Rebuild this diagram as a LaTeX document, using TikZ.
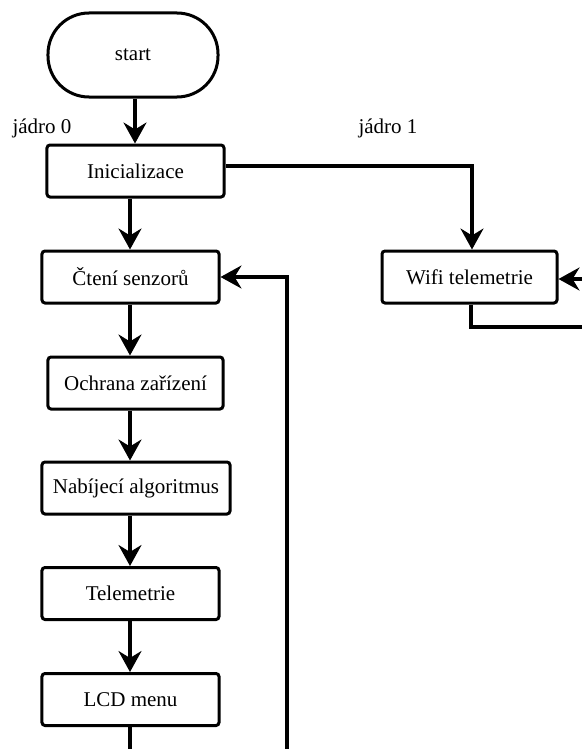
\documentclass[tikz,border=0pt]{standalone}
\usepackage{fontspec}
\setmainfont{Liberation Serif}
\usetikzlibrary{arrows.meta}
\begin{document}
\begin{tikzpicture}[x=1bp,y=-1bp,
  every node/.style={font=\fontsize{21bp}{25bp}\selectfont, inner sep=0pt},
  box/.style={draw, line width=3bp, rounded corners=3bp, minimum height=52bp, fill=white},
  term/.style={draw, line width=3bp, rounded corners=41bp, minimum width=170bp, minimum height=84bp},
  conn/.style={line width=3.2bp},
  arr/.style={conn, -{Stealth[length=21bp,width=23bp,inset=7bp]}},
  lbl/.style={}
]
\useasboundingbox (0,0) rectangle (582,749);
\fill[white] (0,0) rectangle (582,749);

\node[term] (start) at (133,55) {start};
\node[box, minimum width=177bp] (ini) at (135.5,171) {Inicializace};
\node[box, minimum width=175bp] (wifi) at (469.5,277) {Wifi telemetrie};
\node[box, minimum width=177bp] (cteni) at (130.5,277) {Čtení senzorů};
\node[box, minimum width=175bp] (ochr) at (135.5,383) {Ochrana zařízení};
\node[box, minimum width=188bp] (nab) at (136,488) {Nabíjecí algoritmus};
\node[box, minimum width=177bp] (tel) at (130.5,593.5) {Telemetrie};
\node[box, minimum width=177bp] (lcd) at (130.5,699.5) {LCD menu};

\node[lbl] (j0) at (42,128) {jádro 0};
\node[lbl] (j1) at (388,128) {jádro 1};

\coordinate (c1) at (135,0);
\coordinate (col) at (130,0);
\coordinate (k1) at (472,166);
\coordinate (wr) at (582,279);
\coordinate (wbx) at (471,0);
\coordinate (wb) at (582,327);
\coordinate (lb) at (287,749);
\coordinate (lcdb) at (130,749);

\draw[arr] (start.south -| c1) -- (ini.north -| c1);
\draw[arr] (ini.south -| col) -- (cteni.north -| col);
\draw[arr] (cteni.south -| col) -- (ochr.north -| col);
\draw[arr] (ochr.south -| col) -- (nab.north -| col);
\draw[arr] (nab.south -| col) -- (tel.north -| col);
\draw[arr] (tel.south -| col) -- (lcd.north -| col);
\draw[conn] (lcd.south -| lcdb) -- (lcdb);
\draw[arr] (lb) |- (cteni.east);
\draw[arr] (ini.east |- k1) -| (wifi.north -| k1);
\draw[arr] (wr) -- (wifi.east |- wr);
\draw[conn] (wifi.south -| wbx) |- (wb);
\end{tikzpicture}
\end{document}
